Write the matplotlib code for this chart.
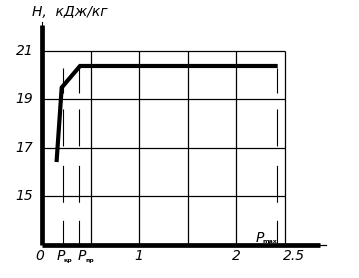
import matplotlib.pyplot as plt
import numpy as np

plt.rcParams['font.family'] = ['DejaVu Sans']
plt.rcParams['lines.scale_dashes'] = False

# curve H(P)
P_curve = [0.15, 0.203, 0.392, 2.43]
H_curve = [16.42, 19.49, 20.38, 20.38]

# grid / ticks
y_grid = [15, 17, 19, 21]
x_grid = [0.5, 1.0, 1.5, 2.0, 2.5]
y_ticks = [21, 19, 17, 15]
x_ticks = [0, 1, 2, 2.5]
x_tick_labels = ['0', '1', '2', '2.5']

# dashed markers and their labels
P_marks = [0.213, 0.385, 2.42]
P_label_x = [0.148, 0.37]
P_mark_labels = ['кр', 'пр', 'max']

fig = plt.figure(figsize=(3.59, 2.78), dpi=100)
ax = fig.add_axes([0, 0, 1, 1])
ax.set_xlim(-0.433, 3.268)
ax.set_ylim(11.64, 23.10)
ax.axis('off')

# grid lines
ax.hlines(y_grid, 0, 2.5, color='black', lw=0.9)
ax.vlines(x_grid, 13, 21, color='black', lw=0.9)

# dashed verticals
for xm in P_marks:
    ax.plot([xm, xm], [20.3, 13], color='black', lw=0.8,
            linestyle=(0, (18, 11.5, 26.6, 14, 26.6, 13, 30, 10)))

# axes
ax.plot([0, 0], [13, 22.05], color='black', lw=3.4, solid_capstyle='butt')
ax.plot([0, 0], [22.0, 22.2], color='black', lw=0.8)
ax.plot([0, 2.87], [13, 13], color='black', lw=3.4, solid_capstyle='butt')
ax.plot([2.85, 2.93], [13, 13], color='black', lw=0.9)

# curve
ax.plot(P_curve, H_curve, color='black', lw=3.0, solid_capstyle='butt',
        solid_joinstyle='miter')

# tick labels
for yv in y_ticks:
    ax.text(-0.09, yv, str(yv), ha='right', va='center', fontsize=10, style='italic')
for xv, lab in zip(x_ticks, x_tick_labels):
    ax.text(xv - (0.02 if xv == 0 else 0) + (0.1 if xv == 2.5 else 0), 12.55, lab,
            ha='center', va='center', fontsize=10, style='italic')
for xl, sub in zip(P_label_x, P_mark_labels[:2]):
    ax.text(xl, 12.55, 'P', ha='left', va='center', fontsize=10, style='italic')
    ax.text(xl + 0.075, 12.38, sub, ha='left', va='center', fontsize=4.5, weight='bold')
ax.text(2.2, 13.3, 'P', ha='left', va='center', fontsize=10, style='italic')
ax.text(2.275, 13.14, P_mark_labels[2], ha='left', va='center', fontsize=4.5, weight='bold')

# y axis label
ax.text(-0.1, 22.6, 'H,  кДж/кг', ha='left', va='center', fontsize=10, style='italic')

plt.savefig('out.png', dpi=100)
